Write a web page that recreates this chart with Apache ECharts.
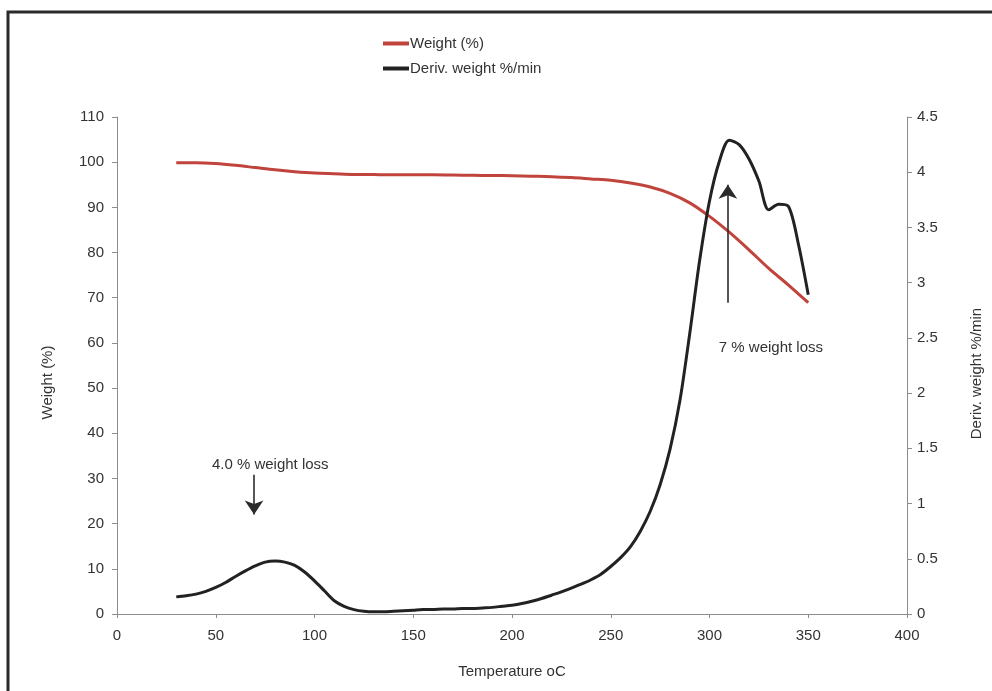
<!DOCTYPE html>
<html>
<head>
<meta charset="utf-8">
<script src="https://cdn.jsdelivr.net/npm/echarts@6/dist/echarts.min.js"></script>
<style>
  html, body { margin: 0; padding: 0; background: #fff; }
  #chart { width: 992px; height: 691px; }
</style>
</head>
<body>
<div id="chart"></div>
<script>
// Thermogravimetric run: residual weight and its derivative vs temperature
const weightTemps = [30, 40, 50, 60, 70, 80, 90, 100, 110, 120, 130, 140, 150, 160, 170, 180, 190, 200, 210, 220, 230, 240, 250, 260, 270, 280, 290, 300, 310, 320, 330, 340, 350];
const weightValues = [99.9, 99.9, 99.7, 99.3, 98.8, 98.3, 97.9, 97.6, 97.45, 97.3, 97.25, 97.2, 97.2, 97.2, 97.15, 97.1, 97.05, 97.0, 96.9, 96.8, 96.6, 96.3, 96.0, 95.4, 94.5, 93.1, 91.0, 88.0, 84.5, 80.6, 76.5, 72.8, 68.9];

const derivTemps = [30, 35, 40, 45, 50, 55, 60, 65, 70, 75, 80, 85, 90, 95, 100, 105, 110, 115, 120, 125, 130, 135, 140, 145, 150, 155, 160, 165, 170, 175, 180, 185, 190, 195, 200, 205, 210, 215, 220, 225, 230, 235, 240, 245, 250, 255, 260, 265, 270, 275, 280, 285, 290, 295, 300, 305, 310, 315, 320, 325, 330, 335, 340, 345, 350];
const derivValues = [0.155, 0.165, 0.18, 0.205, 0.24, 0.285, 0.34, 0.39, 0.435, 0.47, 0.48, 0.47, 0.44, 0.38, 0.30, 0.21, 0.12, 0.07, 0.04, 0.025, 0.02, 0.02, 0.025, 0.03, 0.035, 0.04, 0.04, 0.045, 0.045, 0.05, 0.05, 0.055, 0.06, 0.07, 0.08, 0.095, 0.115, 0.14, 0.17, 0.20, 0.235, 0.27, 0.31, 0.36, 0.43, 0.51, 0.61, 0.75, 0.93, 1.17, 1.49, 1.93, 2.54, 3.20, 3.74, 4.10, 4.29, 4.25, 4.12, 3.92, 3.66, 3.71, 3.69, 3.35, 2.89];

const xTicks = { min: 0, max: 400, interval: 50 };
const leftTicks = { min: 0, max: 110, interval: 10 };
const rightTicks = { min: 0, max: 4.5, interval: 0.5 };

// Annotation arrows (temperature, weight %) and their captions
const arrowLow = [[69.4, 30.8], [69.4, 22.0]];
const arrowHigh = [[309.3, 68.9], [309.3, 95.0]];
const captions = [
  { text: '4.0 % weight loss', at: [77.6, 33.0] },
  { text: '7 % weight loss', at: [331.1, 58.9] }
];

const FONT = '"Liberation Sans", Arial, sans-serif';
const axisColor = '#8c8c8c';
const textColor = '#333';

const chart = echarts.init(document.getElementById('chart'));

const pairs = (xs, ys) => xs.map((x, i) => [x, ys[i]]);

chart.setOption({
  backgroundColor: '#fff',
  animation: false,
  textStyle: { fontFamily: FONT },
  graphic: [
    { type: 'polyline', shape: { points: [[8, 700], [8, 12], [1000, 12]] },
      style: { stroke: '#2a2a2a', lineWidth: 3, fill: null } }
  ],
  legend: {
    orient: 'vertical',
    left: 378,
    top: 31,
    itemWidth: 26,
    itemHeight: 4,
    itemGap: 10,
    icon: 'rect',
    textStyle: { fontSize: 15, color: textColor, fontFamily: FONT, padding: [0, 0, 0, -4] },
    data: ['Weight (%)', 'Deriv. weight %/min']
  },
  grid: { left: 117, right: 84, top: 117, bottom: 77, containLabel: false },
  xAxis: {
    type: 'value',
    min: xTicks.min, max: xTicks.max, interval: xTicks.interval,
    name: 'Temperature oC',
    nameLocation: 'middle',
    nameGap: 50,
    nameTextStyle: { fontSize: 15, color: textColor },
    axisLine: { lineStyle: { color: axisColor, width: 1 } },
    axisTick: { show: true, length: 4, lineStyle: { color: axisColor } },
    axisLabel: { fontSize: 15, color: textColor, margin: 14 },
    splitLine: { show: false }
  },
  yAxis: [
    {
      type: 'value',
      min: leftTicks.min, max: leftTicks.max, interval: leftTicks.interval,
      name: 'Weight (%)',
      nameLocation: 'middle',
      nameGap: 62,
      nameTextStyle: { fontSize: 15, color: textColor, padding: [0, 34, 0, 0] },
      axisLine: { show: true, lineStyle: { color: axisColor, width: 1 } },
      axisTick: { show: true, length: 5, lineStyle: { color: axisColor } },
      axisLabel: { fontSize: 15, color: textColor, margin: 13 },
      splitLine: { show: false }
    },
    {
      type: 'value',
      position: 'right',
      min: rightTicks.min, max: rightTicks.max, interval: rightTicks.interval,
      name: 'Deriv. weight %/min',
      nameLocation: 'middle',
      nameGap: 62,
      nameRotate: 90,
      nameTextStyle: { fontSize: 15, color: textColor, padding: [0, 16, 0, 0] },
      axisLine: { show: true, lineStyle: { color: axisColor, width: 1 } },
      axisTick: { show: true, length: 5, lineStyle: { color: axisColor } },
      axisLabel: { fontSize: 15, color: textColor, margin: 10 },
      splitLine: { show: false }
    }
  ],
  series: [
    {
      name: 'Weight (%)',
      type: 'line',
      yAxisIndex: 0,
      data: pairs(weightTemps, weightValues),
      smooth: 0.3,
      showSymbol: false,
      color: '#c0443c',
      lineStyle: { color: '#c0443c', width: 3 },
      z: 3,
      markLine: {
        silent: true,
        symbol: ['none', 'arrow'],
        symbolSize: 14,
        label: { show: false },
        lineStyle: { color: '#2b2b2b', width: 1.6, type: 'solid' },
        data: [
          [{ coord: arrowLow[0] }, { coord: arrowLow[1] }],
          [{ coord: arrowHigh[0] }, { coord: arrowHigh[1] }]
        ]
      },
      markPoint: {
        silent: true,
        symbol: 'circle',
        symbolSize: 0,
        label: { show: true, position: 'inside', fontSize: 15, color: textColor, fontFamily: FONT,
                 formatter: p => p.name },
        data: captions.map(c => ({ name: c.text, coord: c.at }))
      }
    },
    {
      name: 'Deriv. weight %/min',
      type: 'line',
      yAxisIndex: 1,
      data: pairs(derivTemps, derivValues),
      smooth: 0.3,
      showSymbol: false,
      color: '#222',
      lineStyle: { color: '#222', width: 3 },
      z: 4
    }
  ]
});
</script>
</body>
</html>
